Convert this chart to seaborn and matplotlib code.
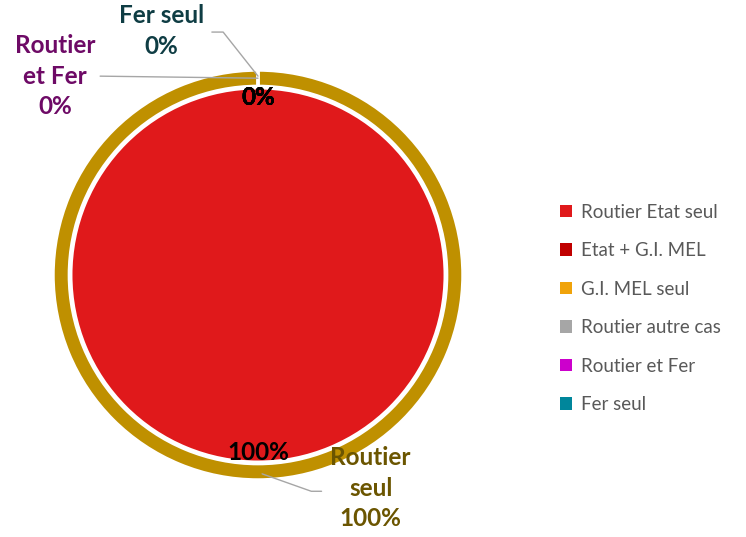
import numpy as np
import matplotlib
matplotlib.use("Agg")
import matplotlib.pyplot as plt
import seaborn as sns
from matplotlib.patches import Patch

sns.set_theme(style="white")
plt.rcParams['font.family'] = ['Lato', 'DejaVu Sans']

# ---- data ----
inner_labels = ["Routier Etat seul", "Etat + G.I. MEL", "G.I. MEL seul",
                "Routier autre cas", "Routier et Fer", "Fer seul"]
inner_values = [100, 0, 0, 0, 0, 0]
inner_colors = ["#E0191B", "#C00000", "#F0A30A", "#A6A6A6", "#CC00CC", "#00869B"]

outer_labels = ["Routier seul", "Routier et Fer", "Fer seul"]
outer_label_lines = ["Routier\nseul", "Routier\net Fer", "Fer seul"]
outer_values = [100, 0, 0]
outer_colors = ["#BF9000", "#8B2F8B", "#1F5F66"]
outer_text_colors = ["#6B5500", "#6E0A66", "#0F3D44"]

W, H = 746, 537
fig = plt.figure(figsize=(W / 100, H / 100), dpi=100)
cx, cy, R = 258, 262, 205  # pixel geometry (from bottom)
half = 240
ax = fig.add_axes([(cx - half) / W, (cy - half) / H, 2 * half / W, 2 * half / H])

# outer ring
outer_wedges, _ = ax.pie(outer_values, radius=1.0, colors=outer_colors,
                         startangle=90, counterclock=False,
                         wedgeprops=dict(width=0.08, edgecolor="white", linewidth=2.5))

# inner pie
inner_wedges, _, autotexts = ax.pie(inner_values, radius=0.905, colors=inner_colors,
                                    startangle=90, counterclock=False,
                                    autopct="%.0f%%", pctdistance=0.955,
                                    wedgeprops=dict(linewidth=0))
for t in autotexts:
    t.set_fontsize(17.5)
    t.set_fontweight("bold")
    t.set_color("black")

lim = half / R
ax.set_xlim(-lim, lim)
ax.set_ylim(-lim, lim)
ax.set_aspect("equal")
ax.axis("off")

# outer labels
tot = sum(outer_values)
offsets = [(0.55, -0.07), (-0.99, 0.0), (-0.47, 0.22)]
for i, (lab, v) in enumerate(zip(outer_label_lines, outer_values)):
    w = outer_wedges[i]
    ang = np.deg2rad((w.theta1 + w.theta2) / 2)
    ax_pt = (0.97 * np.cos(ang), 0.97 * np.sin(ang))
    txt = lab + "\n" + f"{v / tot * 100:.0f}%"
    dx, dy = offsets[i]
    ax.text(ax_pt[0] + dx, ax_pt[1] + dy, txt, ha="center", va="center",
            fontsize=17.5, fontweight="bold", color=outer_text_colors[i],
            linespacing=1.38)

# leader lines
w0 = outer_wedges[0]
a0 = np.deg2rad((w0.theta1 + w0.theta2) / 2)
p0 = (0.97 * np.cos(a0) + 0.02, 0.97 * np.sin(a0))
ax.plot([p0[0], 0.26, 0.31], [p0[1], -1.055, -1.055], color="#A6A6A6", lw=1, clip_on=False)
w1 = outer_wedges[1]
a1 = np.deg2rad(w1.theta1)
p1 = (0.96 * np.cos(a1), 0.96 * np.sin(a1))
ax.plot([p1[0], -0.77], [p1[1], p1[1] + 0.01], color="#A6A6A6", lw=1, clip_on=False)
w2 = outer_wedges[2]
a2 = np.deg2rad(w2.theta1)
p2 = (0.97 * np.cos(a2), 0.97 * np.sin(a2))
ax.plot([p2[0], -0.17, -0.225], [p2[1], 1.185, 1.185], color="#A6A6A6", lw=1, clip_on=False)

# legend
handles = [Patch(facecolor=c, edgecolor="none", label=l) for l, c in zip(inner_labels, inner_colors)]
leg = fig.legend(handles=handles, loc="upper left", bbox_to_anchor=(552 / W, 1 - 196 / H),
                 frameon=False, fontsize=13.5, handlelength=0.65, handleheight=0.65,
                 handletextpad=0.5, labelspacing=1.15, borderaxespad=0)
for t in leg.get_texts():
    t.set_color("#595959")

fig.savefig("out.png", dpi=100)
